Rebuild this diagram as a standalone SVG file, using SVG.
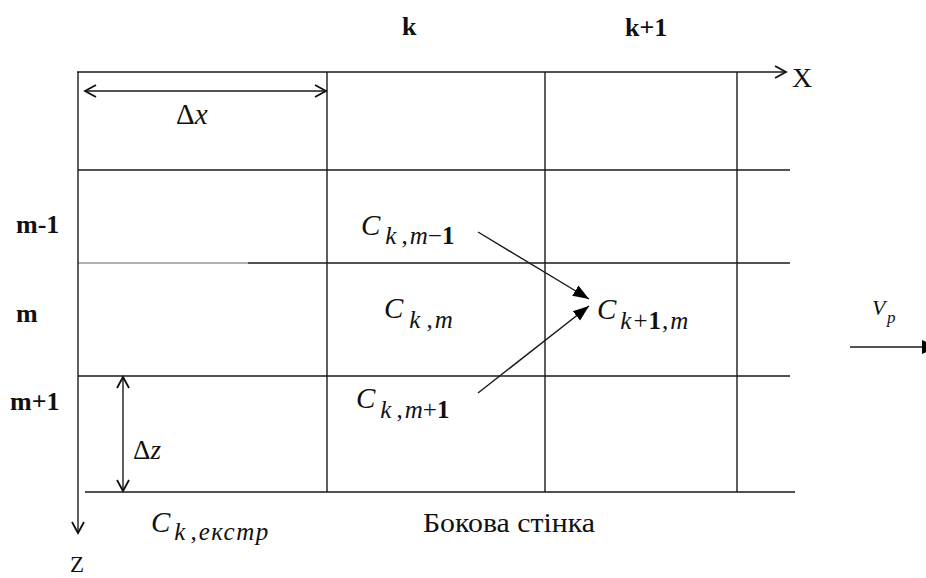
<svg xmlns="http://www.w3.org/2000/svg" width="926" height="578" viewBox="0 0 926 578">
  <defs>
    <marker id="open" markerUnits="userSpaceOnUse" markerWidth="16" markerHeight="16" refX="12" refY="7" orient="auto-start-reverse" viewBox="0 0 16 14">
      <path d="M1,1 L12,7 L1,13" fill="none" stroke="#111" stroke-width="1.8"/>
    </marker>
    <marker id="solid" markerUnits="userSpaceOnUse" markerWidth="18" markerHeight="14" refX="16" refY="6" orient="auto" viewBox="0 0 18 12">
      <path d="M0,0 L16,6 L0,12 Z" fill="#000"/>
    </marker>
  </defs>
  <rect width="926" height="578" fill="#fff"/>

  <g id="grid" stroke="#1a1a1a" stroke-width="1.4" fill="none">
    <line x1="327" y1="72" x2="327" y2="492"/>
    <line x1="545" y1="72" x2="545" y2="492"/>
    <line x1="737" y1="72" x2="737" y2="492"/>
    <line x1="78" y1="170" x2="790" y2="170"/>
    <line x1="78" y1="263" x2="248" y2="263" stroke="#999" stroke-width="1.6"/>
    <line x1="248" y1="263" x2="790" y2="263"/>
    <line x1="78" y1="376" x2="790" y2="376"/>
    <line x1="85" y1="492" x2="795" y2="492"/>
  </g>

  <g id="axes">
    <g stroke="#1a1a1a" stroke-width="1.4" fill="none">
      <line x1="77" y1="72" x2="786" y2="72" marker-end="url(#open)"/>
      <line x1="78" y1="72" x2="78" y2="533" marker-end="url(#open)"/>
    </g>
    <text font-family="Liberation Serif" fill="#111" x="792" y="87" font-size="28">X</text>
    <text font-family="Liberation Serif" fill="#111" x="70" y="572" font-size="23">Z</text>
  </g>

  <g id="dimensions">
    <g stroke="#1a1a1a" stroke-width="1.4" fill="none">
      <line x1="85" y1="91" x2="326" y2="91" marker-start="url(#open)" marker-end="url(#open)"/>
      <line x1="123" y1="377" x2="123" y2="491" marker-start="url(#open)" marker-end="url(#open)"/>
    </g>
    <text font-family="Liberation Serif" fill="#111" x="176" y="124" font-size="29">Δ<tspan font-style="italic">x</tspan></text>
    <text font-family="Liberation Serif" fill="#111" x="133" y="459" font-size="27">Δ<tspan font-style="italic">z</tspan></text>
  </g>

  <g id="index-labels">
    <text font-family="Liberation Serif" fill="#111" font-weight="bold" x="402" y="35" font-size="26">k</text>
    <text font-family="Liberation Serif" fill="#111" font-weight="bold" x="625" y="36" font-size="26">k+1</text>
    <text font-family="Liberation Serif" fill="#111" font-weight="bold" x="16" y="233" font-size="26">m-1</text>
    <text font-family="Liberation Serif" fill="#111" font-weight="bold" x="16" y="322" font-size="26">m</text>
    <text font-family="Liberation Serif" fill="#111" font-weight="bold" x="10" y="410" font-size="26">m+1</text>
  </g>

  <g id="c-k-m-1">
    <text font-family="Liberation Serif" fill="#111" x="361" y="235"><tspan font-style="italic" font-size="29">C</tspan><tspan font-size="25" dy="9"><tspan font-style="italic" dx="5">k</tspan><tspan dx="5">,</tspan><tspan font-style="italic" dx="2">m</tspan>−<tspan font-weight="bold">1</tspan></tspan></text>
  </g>
  <g id="c-k-m">
    <text font-family="Liberation Serif" fill="#111" x="384" y="318"><tspan font-style="italic" font-size="29">C</tspan><tspan font-size="25" dy="10"><tspan font-style="italic" dx="6">k</tspan><tspan dx="6">,</tspan><tspan font-style="italic" dx="2">m</tspan></tspan></text>
  </g>
  <g id="c-k1-m">
    <text font-family="Liberation Serif" fill="#111" x="597" y="319"><tspan font-style="italic" font-size="29">C</tspan><tspan font-size="25" dy="10"><tspan font-style="italic" dx="4">k</tspan><tspan dx="2">+</tspan><tspan font-weight="bold" dx="1">1</tspan><tspan dx="1">,</tspan><tspan font-style="italic" dx="2">m</tspan></tspan></text>
  </g>
  <g id="c-k-m1">
    <text font-family="Liberation Serif" fill="#111" x="356" y="408"><tspan font-style="italic" font-size="29">C</tspan><tspan font-size="25" dy="10"><tspan font-style="italic" dx="5">k</tspan><tspan dx="5">,</tspan><tspan font-style="italic" dx="2">m</tspan>+<tspan font-weight="bold">1</tspan></tspan></text>
  </g>
  <g id="c-k-ekstr">
    <text font-family="Liberation Serif" fill="#111" x="151" y="532"><tspan font-style="italic" font-size="29">C</tspan><tspan font-size="25" dy="8"><tspan font-style="italic" dx="4">k</tspan><tspan dx="5">,</tspan><tspan font-style="italic" dx="2" letter-spacing="1.5">екстр</tspan></tspan></text>
  </g>
  <g id="wall-label">
    <text font-family="Liberation Serif" fill="#111" x="423" y="532" font-size="27" textLength="172" lengthAdjust="spacingAndGlyphs">Бокова стінка</text>
  </g>
  <g id="velocity">
    <text font-family="Liberation Serif" fill="#111" font-style="italic" x="872" y="315" font-size="22">V</text>
    <text font-family="Liberation Serif" fill="#111" font-style="italic" x="887" y="323" font-size="17">p</text>
  </g>

  <g id="connectors" stroke="#1a1a1a" stroke-width="1.4" fill="none">
    <line x1="478" y1="232" x2="589" y2="299" marker-end="url(#solid)"/>
    <line x1="478" y1="393" x2="589" y2="306" marker-end="url(#solid)"/>
    <line x1="850" y1="347" x2="924" y2="347"/>
    <path d="M922,340 L938,347 L922,354 Z" fill="#000" stroke="none"/>
  </g>
</svg>
